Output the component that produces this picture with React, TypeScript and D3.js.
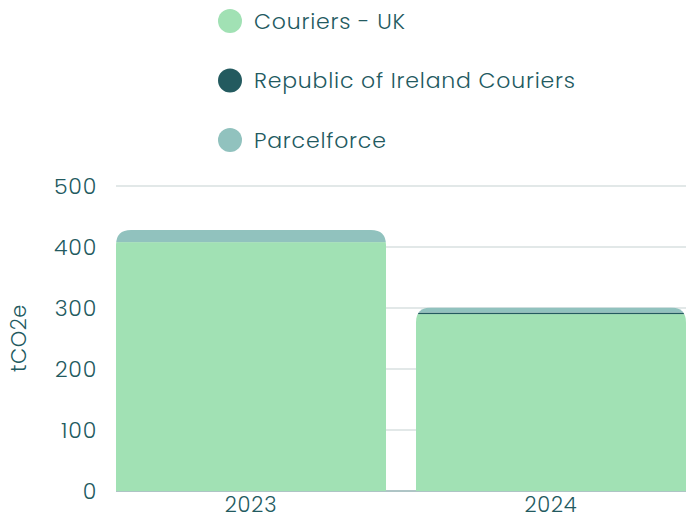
import React from "react";
import * as d3 from "d3";

const years = ["2023", "2024"];
const seriesNames = ["Couriers - UK", "Republic of Ireland Couriers", "Parcelforce"];
const seriesColors = ["#a1e1b4", "#235a5f", "#91c2be"];
const couriersUK = [408, 290];
const roiCouriers = [0, 2.6];
const parcelforce = [20, 8.2];
const yTicks = [0, 100, 200, 300, 400, 500];

const W = 686;
const H = 521;
const FONT = "Poppins, 'Noto Sans', sans-serif";
const TEXT = "#235a5f";

export default function App() {
  const x = d3.scaleBand<string>().domain(years).range([101, 701]).paddingInner(0.1).paddingOuter(0.05);
  const y = d3.scaleLinear().domain([0, 500]).range([491, 186]);
  const rows = years.map((yr, i) => ({
    year: yr,
    "Couriers - UK": couriersUK[i],
    "Republic of Ireland Couriers": roiCouriers[i],
    Parcelforce: parcelforce[i],
  }));
  const stack = d3.stack<any>().keys(seriesNames)(rows);
  const r = 15;
  const bw = x.bandwidth();

  const clipPath = (i: number) => {
    const total = couriersUK[i] + roiCouriers[i] + parcelforce[i];
    const x0 = x(years[i])!;
    const top = y(total);
    const bottom = y(0);
    return `M${x0},${bottom}L${x0},${top + r}Q${x0},${top} ${x0 + r},${top}L${x0 + bw - r},${top}Q${x0 + bw},${top} ${x0 + bw},${top + r}L${x0 + bw},${bottom}Z`;
  };

  return (
    <svg width={W} height={H} style={{ position: "absolute", left: 0, top: 0 }}>
      <defs>
        {years.map((yr, i) => (
          <clipPath id={`clip${i}`} key={yr}>
            <path d={clipPath(i)} />
          </clipPath>
        ))}
      </defs>
      <rect width={W} height={H} fill="#ffffff" />
      {/* legend */}
      {seriesNames.map((s, i) => (
        <g key={s}>
          <circle cx={230} cy={21 + i * 59.5} r={12} fill={seriesColors[i]} />
          <text
            x={254}
            y={21 + i * 59.5}
            dy="0.35em"
            fontFamily={FONT}
            fontSize={22}
            fontWeight={300}
            letterSpacing={0.8}
            fill={TEXT}
          >
            {s}
          </text>
        </g>
      ))}
      {/* grid */}
      {yTicks.map((t) => (
        <g key={t}>
          <line x1={116} x2={686} y1={y(t)} y2={y(t)} stroke={t === 0 ? "#5f8a8c" : "#c5d1d1"} strokeWidth={1} />
          <text
            x={97}
            y={y(t)}
            dy="0.35em"
            textAnchor="end"
            fontFamily={FONT}
            fontSize={22}
            fontWeight={300}
            letterSpacing={0.8}
            fill={TEXT}
          >
            {t}
          </text>
        </g>
      ))}
      <text
        transform={`translate(26,338) rotate(-90)`}
        textAnchor="middle"
        fontFamily={FONT}
        fontSize={21}
        fontWeight={300}
        letterSpacing={0.5}
        fill={TEXT}
      >
        tCO2e
      </text>
      {/* bars */}
      {years.map((yr, i) => (
        <g key={yr} clipPath={`url(#clip${i})`}>
          {stack.map((layer, si) => {
            const d = layer[i];
            const h = y(d[0]) - y(d[1]);
            if (h <= 0) return null;
            return <rect key={si} x={x(yr)} y={y(d[1])} width={bw} height={h} fill={seriesColors[si]} />;
          })}
        </g>
      ))}
      {years.map((yr) => (
        <text
          key={yr}
          x={x(yr)! + bw / 2}
          y={512}
          textAnchor="middle"
          fontFamily={FONT}
          fontSize={21}
          fontWeight={300}
          letterSpacing={0.8}
          fill={TEXT}
        >
          {yr}
        </text>
      ))}
    </svg>
  );
}
